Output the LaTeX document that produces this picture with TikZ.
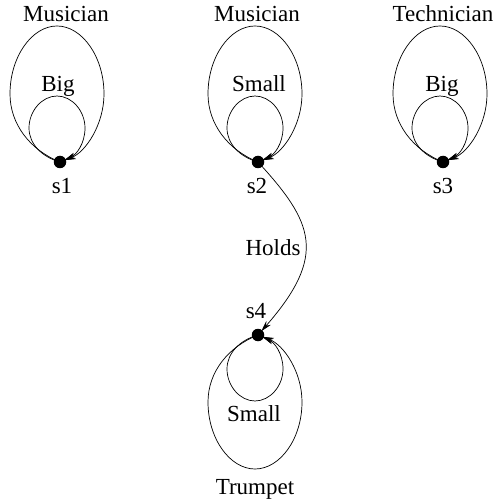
\documentclass[tikz,border=0pt]{standalone}
\usepackage{fontspec}
\setmainfont{Liberation Serif}
\usetikzlibrary{arrows.meta}
\tikzset{
  dot/.style={circle,fill=black,inner sep=0pt,minimum size=12.5pt},
  lbl/.style={font=\fontsize{23}{26}\selectfont,inner sep=0pt,anchor=base},
  edge/.style={line width=0.7pt,-{Stealth[length=11pt,width=6pt]},shorten >=5pt},
}
% #1 node, #2 direction (1 up, -1 down), #3 half height
\newcommand\bigloop[3]{%
  \draw[edge] (#1.center) .. controls +(-30,-12*#2) and +(0,30*#2) .. ++(-50,-#3*#2)
    .. controls +(0,-0.55*#3*#2) and +(-25,0) .. ++(47,-#3*#2)
    .. controls +(25,0) and +(0,-0.55*#3*#2) .. ++(47,#3*#2)
    .. controls +(0,30*#2) and +(26,-10*#2) .. ++(-44,#3*#2);}
\newcommand\smallloop[2]{%
  \draw[edge] (#1.center) .. controls +(-18,-5*#2) and +(0,16*#2) .. ++(-31,-34*#2)
    .. controls +(0,-17*#2) and +(-15,0) .. ++(28,-32*#2)
    .. controls +(15,0) and +(0,-17*#2) .. ++(28,32*#2)
    .. controls +(0,16*#2) and +(16,-7*#2) .. ++(-25,34*#2);}
\begin{document}
\begin{tikzpicture}[x=1pt,y=-1pt]
\useasboundingbox (0,0) rectangle (498,502);
\coordinate (s1) at (60,162);
\coordinate (s2) at (258,162);
\coordinate (s3) at (443,162);
\coordinate (s4) at (258,335);
\bigloop{s1}{1}{68}\smallloop{s1}{1}
\bigloop{s2}{1}{68}\smallloop{s2}{1}
\bigloop{s3}{1}{68}\smallloop{s3}{1}
\bigloop{s4}{-1}{67}\smallloop{s4}{-1}
\draw[edge] (s2) .. controls +(55,60) and +(70,-80) .. (s4);
\node[dot] (d1) at (s1) {};
\node[dot] (d2) at (s2) {};
\node[dot] (d3) at (s3) {};
\node[dot] (d4) at (s4) {};
\node[lbl] (m1) at (66,22) {Musician};
\node[lbl] (b1) at (58,92) {Big};
\node[lbl] (t1) at (62,194) {s1};
\node[lbl] (m2) at (257,22) {Musician};
\node[lbl] (b2) at (259,92) {Small};
\node[lbl] (t2) at (257,194) {s2};
\node[lbl] (m3) at (443,22) {Technician};
\node[lbl] (b3) at (442,92) {Big};
\node[lbl] (t3) at (443,194) {s3};
\node[lbl] (t4) at (256,318) {s4};
\node[lbl] (b4) at (254,421) {Small};
\node[lbl] (m4) at (255,494) {Trumpet};
\node[lbl] (h) at (273,255) {Holds};
\end{tikzpicture}
\end{document}
